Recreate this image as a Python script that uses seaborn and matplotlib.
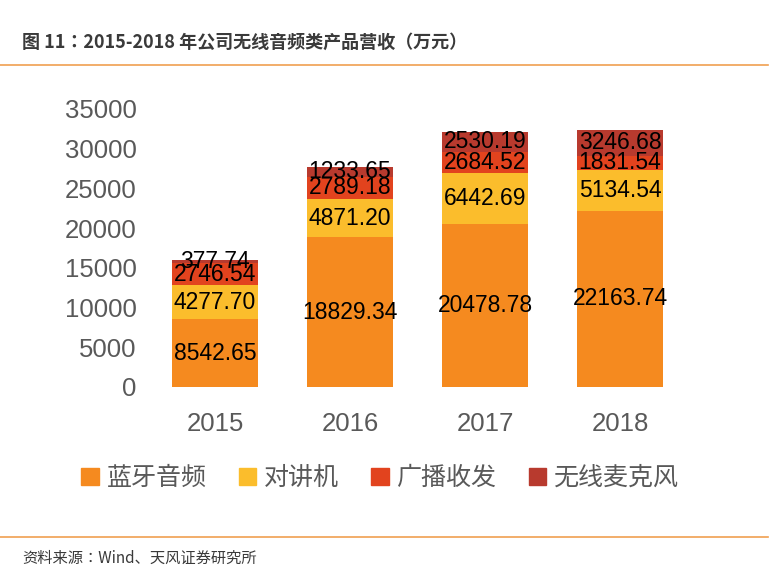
import matplotlib
matplotlib.use("Agg")
import matplotlib.pyplot as plt
import pandas as pd
import seaborn as sns
from matplotlib.lines import Line2D
from matplotlib.patches import Patch

years = ["2015", "2016", "2017", "2018"]
series_names = ["蓝牙音频", "对讲机", "广播收发", "无线麦克风"]
bluetooth = [8542.65, 18829.34, 20478.78, 22163.74]
walkie = [4277.70, 4871.20, 6442.69, 5134.54]
broadcast = [2746.54, 2789.18, 2684.52, 1831.54]
microphone = [377.74, 1233.65, 2530.19, 3246.68]
colors = ["#F58A1F", "#FBBD2C", "#E2431E", "#B83A2E"]

CJK = ["Noto Sans CJK SC", "Noto Sans CJK JP", "Noto Sans CJK TC", "DejaVu Sans"]
NUM = "Liberation Sans"
plt.rcParams["font.family"] = ["Liberation Sans"] + CJK

layers = [bluetooth, walkie, broadcast, microphone]
rows = []
for name, vals in zip(series_names, layers):
    for y, v in zip(years, vals):
        rows.append({"year": y, "series": name, "value": v})
df = pd.DataFrame(rows)
df["top"] = df.groupby("year")["value"].cumsum()
df["bottom"] = df["top"] - df["value"]

fig = plt.figure(figsize=(7.84, 5.86), dpi=100)
ax = fig.add_axes([147.5 / 784, 1 - 387 / 586, 540 / 784, 278 / 586])

# draw cumulative totals from the top layer down so each layer shows as a stack
for name, color in reversed(list(zip(series_names, colors))):
    sub = df[df["series"] == name]
    sns.barplot(data=sub, x="year", y="top", color=color, width=0.63,
                saturation=1, ax=ax, order=years)

for _, r in df.iterrows():
    ax.text(years.index(r["year"]), (r["bottom"] + r["top"]) / 2, f"{r['value']:.2f}",
            ha="center", va="center", fontsize=16.5, family=NUM, color="black")

ax.set_ylim(0, 35000)
ax.set_xlim(-0.5, 3.5)
ax.set_yticks(range(0, 35001, 5000))
ax.set_xlabel("")
ax.set_ylabel("")
for s in ax.spines.values():
    s.set_visible(False)
ax.tick_params(length=0, labelsize=18.5, colors="#595959", pad=8)
ax.tick_params(axis="x", pad=18)

handles = [Patch(color=c) for c in colors]
fig.legend(handles, series_names, loc="center", bbox_to_anchor=(0.485, 1 - 478 / 586),
           ncol=4, frameon=False, prop={"family": CJK, "size": 18},
           handlelength=0.7, handleheight=0.7, handletextpad=0.3, columnspacing=1.3,
           labelcolor="#595959")

fig.text(0.028, 1 - 42 / 586, "图 11：2015-2018 年公司无线音频类产品营收（万元）",
         family=CJK, fontsize=13, fontweight="bold", color="#3a3a3a", va="center")
fig.add_artist(Line2D([0, 0.98], [1 - 65 / 586] * 2, color="#F0A050", lw=1.2))
fig.add_artist(Line2D([0, 0.98], [1 - 537 / 586] * 2, color="#F0A050", lw=1.2))
fig.text(0.028, 1 - 558 / 586, "资料来源：Wind、天风证券研究所",
         family=CJK, fontsize=11, color="#3a3a3a", va="center")

fig.savefig("out.png", dpi=100)
